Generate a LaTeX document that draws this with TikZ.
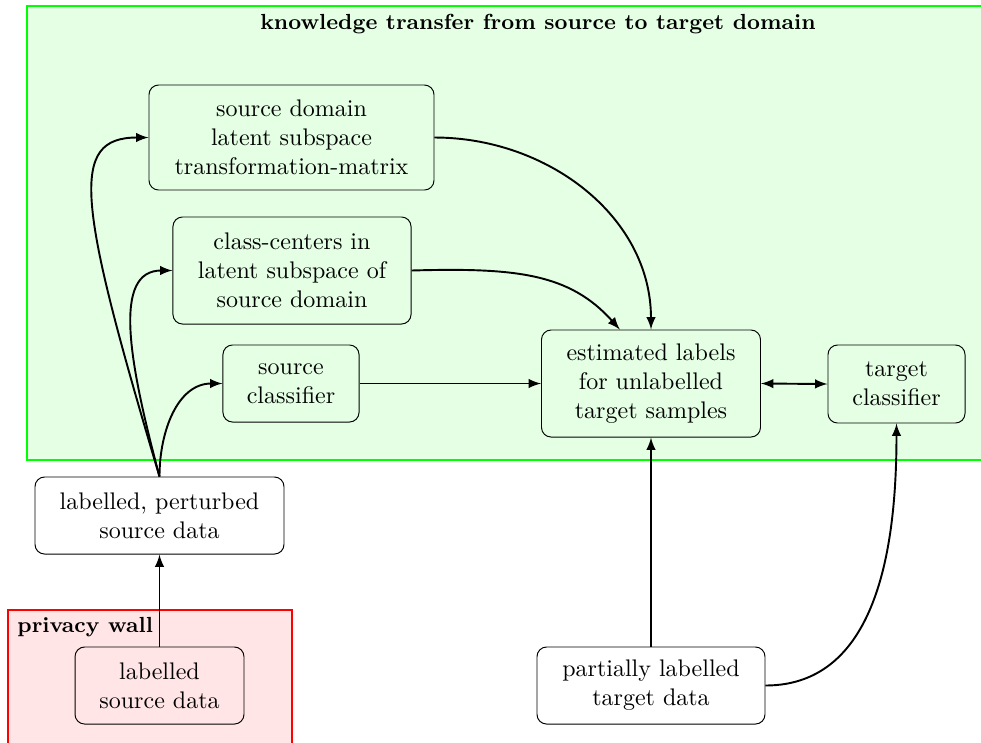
\documentclass[tikz,border=0pt]{standalone}
\usetikzlibrary{arrows}
\begin{document}
\begin{tikzpicture}[x=0.41667pt,y=-0.41667pt,
  box/.style={draw=black, thin, rounded corners=4pt, align=center, inner sep=2pt, font=\normalsize},
  conn/.style={thick, -latex},
  frame/.style={thick},
  ttlfont/.style={font=\fontsize{9.1}{11}\selectfont\bfseries}]
\useasboundingbox (0,0) rectangle (981,742);
\clip (0,0) rectangle (981,742);
% regions
\filldraw[frame, draw=green, fill=green!10] (27,6) rectangle (1040,460);
\filldraw[frame, draw=red, fill=red!10] (8,610) rectangle (292,760);
\node[ttlfont, anchor=center] (ttl) at (538,24) {knowledge transfer from source to target domain};
\node[ttlfont, anchor=west, inner sep=0pt] (pw) at (17,627) {privacy wall};
% nodes
\node[box, minimum width=118.75pt, minimum height=43.75pt] (sd) at (291.5,137.5) {source domain\\latent subspace\\transformation-matrix};
\node[box, minimum width=99.2pt, minimum height=44.6pt] (cc) at (292,270.5) {class-centers in\\latent subspace of\\source domain};
\node[box, minimum width=56.7pt, minimum height=32.1pt] (sc) at (291,383.5) {source\\classifier};
\node[box, minimum width=91.25pt, minimum height=44.6pt] (est) at (651,383.5) {estimated labels\\for unlabelled\\target samples};
\node[box, minimum width=57.1pt, minimum height=32.5pt] (tc) at (896.5,384) {target\\classifier};
\node[box, minimum width=103.75pt, minimum height=32.1pt] (pert) at (159.5,515.5) {labelled, perturbed\\source data};
\node[box, minimum width=70.4pt, minimum height=32.1pt] (lsd) at (159.5,685.5) {labelled\\source data};
\node[box, minimum width=95pt, minimum height=32.1pt] (plt) at (651,685.5) {partially labelled\\target data};
% connectors
\draw[conn] (pert.north) .. controls +(-82,-275) and +(-80,0) .. (sd.west);
\draw[conn] (pert.north) .. controls +(-31,-116) and +(-60,0) .. (cc.west);
\draw[conn] (pert.north) .. controls +(0,-45) and +(-45,0) .. (sc.west);
\draw[conn] (sd.east) .. controls +(113,0) and +(0,-113) .. (est.north);
\draw[conn] (cc.east) .. controls +(105,-3) and +(-50,-56) .. (est.120);
\draw[conn] (sc.east) -- (est.west);
\draw[thick, latex-latex] (est.east) -- (tc.west);
\draw[conn] (plt.north) -- (est.south);
\draw[conn] (plt.east) .. controls +(115,0) and +(0,115) .. (tc.south);
\draw[conn] (lsd.north) -- (pert.south);
\end{tikzpicture}
\end{document}
